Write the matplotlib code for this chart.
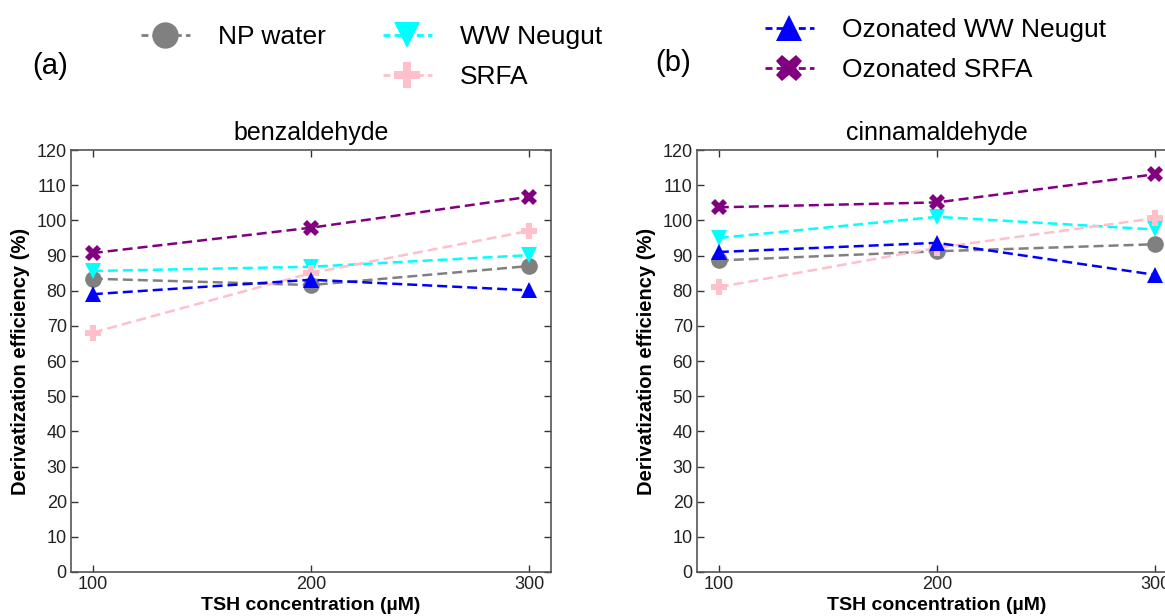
import matplotlib
matplotlib.use("Agg")
import matplotlib.pyplot as plt
from matplotlib.lines import Line2D

plt.rcParams['font.family'] = ['Liberation Sans', 'DejaVu Sans']

tsh = [100, 200, 300]
series_names = ["NP water", "WW Neugut", "SRFA", "Ozonated WW Neugut", "Ozonated SRFA"]
colors = ["#808080", "#00FFFF", "#FFC0CB", "#0000FF", "#800080"]
markers = ["o", "v", "P", "^", "X"]

benz_np = [83.4, 81.6, 87.0]
benz_ww = [85.6, 86.8, 90.1]
benz_srfa = [68.1, 85.0, 97.0]
benz_ozww = [79.0, 83.1, 80.1]
benz_ozsrfa = [90.7, 97.9, 106.7]

cinn_np = [88.6, 91.2, 93.2]
cinn_ww = [95.0, 101.0, 97.4]
cinn_srfa = [81.0, 92.2, 100.6]
cinn_ozww = [91.0, 93.6, 84.5]
cinn_ozsrfa = [103.7, 105.1, 113.1]

titles = ["benzaldehyde", "cinnamaldehyde"]
panel_data = [
    [benz_np, benz_ww, benz_srfa, benz_ozww, benz_ozsrfa],
    [cinn_np, cinn_ww, cinn_srfa, cinn_ozww, cinn_ozsrfa],
]

W, H = 1165, 616
fig = plt.figure(figsize=(W / 100, H / 100), dpi=100)

axes_px = [(71, 150, 480, 422), (697, 150, 480, 422)]
spine_col = "#555555"
for (x0, y0, w, h), title, data in zip(axes_px, titles, panel_data):
    ax = fig.add_axes([x0 / W, 1 - (y0 + h) / H, w / W, h / H])
    for vals, c, m in zip(data, colors, markers):
        ax.plot(tsh, vals, linestyle=(0, (4, 2.0)), color=c, lw=1.8,
                marker=m, markersize=12, markeredgewidth=0, clip_on=False)
    ax.set_xlim(90, 310)
    ax.set_ylim(0, 120)
    ax.set_xticks(tsh)
    ax.set_yticks(range(0, 121, 10))
    ax.tick_params(direction="in", top=True, right=True, labelsize=13,
                   length=5, width=1, color="#333333", labelcolor="#222222", pad=3)
    for s in ax.spines.values():
        s.set_color(spine_col)
        s.set_linewidth(1.2)
    ax.set_title(title, fontsize=18, pad=7)
    ax.set_xlabel("TSH concentration (µM)", fontsize=14, fontweight="bold", labelpad=3)
    ax.set_ylabel("Derivatization efficiency (%)", fontsize=14.5, fontweight="bold", labelpad=5)

handles = [Line2D([0], [0], linestyle=(0, (2.5, 1.5)), color=c, lw=2, marker=m,
                  markersize=19, markeredgewidth=0)
           for c, m in zip(colors, markers)]

legend_kw = dict(frameon=False, fontsize=19, handlelength=1.85, handletextpad=1.05,
                 labelspacing=0.6, borderpad=0, borderaxespad=0)
fig.legend([handles[0]], [series_names[0]], loc="upper left",
           bbox_to_anchor=(141 / W, 1 - 25 / H), **legend_kw)
fig.legend(handles[1:3], series_names[1:3], loc="upper left",
           bbox_to_anchor=(383 / W, 1 - 25 / H), **legend_kw)
fig.legend(handles[3:5], series_names[3:5], loc="upper left",
           bbox_to_anchor=(765 / W, 1 - 18 / H), **legend_kw)

fig.text(50 / W, 1 - 66 / H, "(a)", fontsize=21, ha="center", va="center")
fig.text(673 / W, 1 - 63 / H, "(b)", fontsize=21, ha="center", va="center")

fig.savefig("out.png", dpi=100)
